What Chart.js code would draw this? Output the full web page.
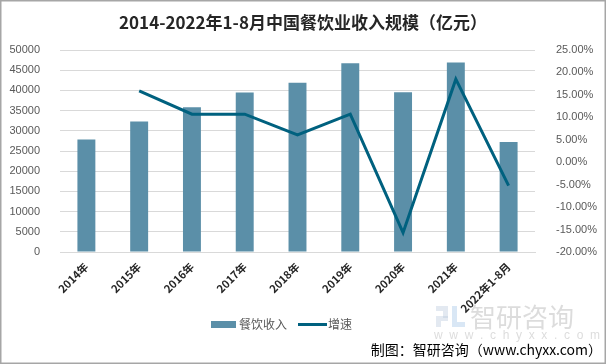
<!DOCTYPE html>
<html>
<head>
<meta charset="utf-8">
<script src="https://cdn.jsdelivr.net/npm/chart.js@4.4.1/dist/chart.umd.min.js"></script>
<style>
html,body{margin:0;padding:0;background:#fff;}
#wrap{width:606px;height:364px;position:relative;}
canvas{display:block;}
</style>
</head>
<body>
<div id="wrap"><canvas id="c" width="606" height="364"></canvas></div>
<script>
const categories = ['2014年','2015年','2016年','2017年','2018年','2019年','2020年','2021年','2022年1-8月'];
const revenue = [27860, 32310, 35799, 39500, 41900, 46721, 39527, 46895, 27231];
const growth = [null, 15.9, 10.7, 10.7, 6.1, 10.7, -15.7, 18.5, -5.2];
const leftTicks = {min: 0, max: 50000, step: 5000};
const rightTicks = {min: -20, max: 25, step: 5};
const titleText = '2014-2022年1-8月中国餐饮业收入规模（亿元）';
const seriesNames = ['餐饮收入', '增速'];
const sourceText = '制图：智研咨询（www.chyxx.com）';

const BAR = '#5b8fa8';
const LINE = '#00617f';
const CJK = '"Noto Sans CJK SC", "Liberation Sans", sans-serif';

const decor = {
  id: 'decor',
  afterDraw(chart) {
    const ctx = chart.ctx;
    ctx.save();
    // border
    ctx.strokeStyle = '#a6a6a6';
    ctx.lineWidth = 1.5;
    ctx.strokeRect(0.75, 0.75, 604.5, 362.5);
    // title
    ctx.fillStyle = '#262626';
    ctx.font = 'bold 17px ' + CJK;
    ctx.textAlign = 'center';
    ctx.textBaseline = 'middle';
    ctx.fillText(titleText, 303, 23);
    // watermark
    ctx.globalAlpha = 0.4;
    ctx.fillStyle = '#b8c8dc';
    ctx.fillRect(436, 306, 12, 5);
    ctx.fillRect(443, 311, 5, 7);
    ctx.fillRect(436, 316, 12, 5);
    ctx.fillRect(436, 321, 5, 6);
    ctx.fillStyle = '#9fc3e6';
    ctx.fillRect(452, 306, 5, 21);
    ctx.fillRect(457, 322, 8, 5);
    ctx.globalAlpha = 0.3;
    ctx.fillStyle = '#8c8c8c';
    ctx.font = '26px ' + CJK;
    ctx.textAlign = 'left';
    ctx.fillText('智研咨询', 470, 317);
    ctx.font = '12px "Liberation Sans", sans-serif';
    ctx.fillText('w  w  w  .  c  h  y  x  x  .  c  o  m', 434, 336);
    ctx.globalAlpha = 1;
    // legend
    const ly = 324;
    ctx.fillStyle = BAR;
    ctx.fillRect(211, ly - 3, 25, 7);
    ctx.fillStyle = '#595959';
    ctx.font = '12px ' + CJK;
    ctx.textAlign = 'left';
    ctx.fillText(seriesNames[0], 239, ly);
    ctx.strokeStyle = LINE;
    ctx.lineWidth = 3;
    ctx.beginPath();
    ctx.moveTo(298, ly + 0.5);
    ctx.lineTo(327, ly + 0.5);
    ctx.stroke();
    ctx.fillText(seriesNames[1], 328, ly);
    // source
    ctx.fillStyle = '#000';
    ctx.font = '14px ' + CJK;
    ctx.textAlign = 'right';
    ctx.fillText(sourceText, 602, 350);
    ctx.restore();
  }
};

new Chart(document.getElementById('c'), {
  data: {
    labels: categories,
    datasets: [
      {
        type: 'line', label: seriesNames[1], data: growth, yAxisID: 'y1',
        borderColor: LINE, backgroundColor: LINE, borderWidth: 3,
        pointRadius: 0, tension: 0, spanGaps: false, order: 0
      },
      {
        type: 'bar', label: seriesNames[0], data: revenue, yAxisID: 'y',
        backgroundColor: BAR, barPercentage: 0.68, categoryPercentage: 0.5, order: 1
      }
    ]
  },
  plugins: [decor],
  options: {
    responsive: false,
    animation: false,
    layout: {padding: {top: 50, left: 0, right: 0, bottom: 0}},
    plugins: {legend: {display: false}, title: {display: false}, tooltip: {enabled: false}},
    scales: {
      x: {
        grid: {display: false, drawTicks: false},
        border: {display: true, color: '#d9d9d9'},
        ticks: {
          minRotation: 45, maxRotation: 45, padding: 8, color: '#262626',
          font: {size: 11, weight: 'bold', family: CJK}, autoSkip: false
        },
        afterFit(s) { s.height = 364 - 50 - 202; }
      },
      y: {
        position: 'left', min: leftTicks.min, max: leftTicks.max,
        grid: {color: '#d9d9d9', drawTicks: false},
        border: {display: false},
        ticks: {stepSize: leftTicks.step, padding: 20, color: '#595959',
          font: {size: 11, family: '"Liberation Sans", sans-serif'},
          callback: v => String(v)},
        afterFit(s) { s.width = 60; }
      },
      y1: {
        position: 'right', min: rightTicks.min, max: rightTicks.max,
        grid: {display: false, drawTicks: false},
        border: {display: false},
        ticks: {stepSize: rightTicks.step, padding: 21, color: '#595959',
          font: {size: 11, family: '"Liberation Sans", sans-serif'},
          callback: v => v.toFixed(2) + '%'},
        afterFit(s) { s.width = 71; }
      }
    }
  }
});
</script>
</body>
</html>
